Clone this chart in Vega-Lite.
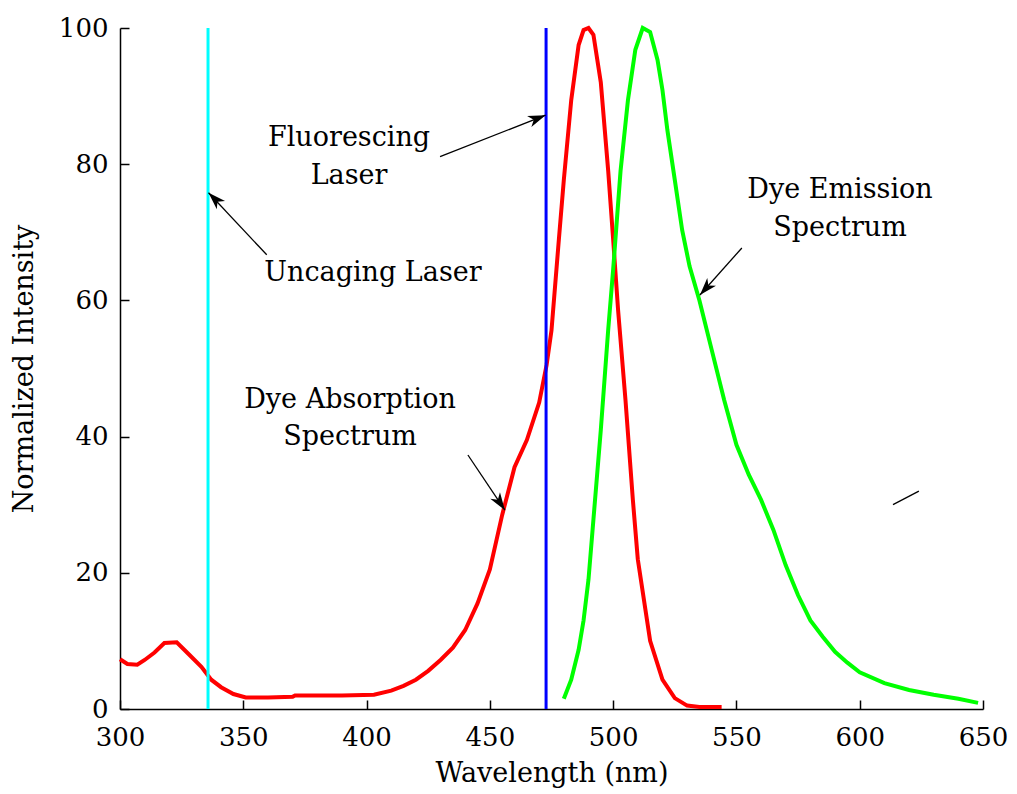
{
  "$schema": "https://vega.github.io/schema/vega-lite/v6.json",
  "width": 863,
  "height": 681,
  "autosize": "none",
  "padding": {"left": 120, "top": 28, "right": 34, "bottom": 85},
  "background": "white",
  "config": {
    "view": {"stroke": null},
    "font": "DejaVu Serif",
    "axis": {
      "grid": false,
      "labelFlush": false,
      "labelOverlap": false,
      "domainColor": "black",
      "domainWidth": 1.5,
      "tickColor": "black",
      "tickWidth": 1.5,
      "tickSize": -9,
      "labelFont": "DejaVu Serif",
      "labelFontSize": 26,
      "labelColor": "black",
      "titleFont": "DejaVu Serif",
      "titleFontSize": 27,
      "titleFontWeight": "normal",
      "titleColor": "black"
    }
  },
  "resolve": {"scale": {"color": "independent"}},
  "datasets": {
    "spectra": [
      {"wl": 300, "v": 7.3, "s": "abs"},
      {"wl": 303, "v": 6.6, "s": "abs"},
      {"wl": 307, "v": 6.5, "s": "abs"},
      {"wl": 310, "v": 7.2, "s": "abs"},
      {"wl": 314, "v": 8.3, "s": "abs"},
      {"wl": 318, "v": 9.7, "s": "abs"},
      {"wl": 323, "v": 9.8, "s": "abs"},
      {"wl": 328, "v": 8.0, "s": "abs"},
      {"wl": 333, "v": 6.2, "s": "abs"},
      {"wl": 337, "v": 4.3, "s": "abs"},
      {"wl": 341, "v": 3.2, "s": "abs"},
      {"wl": 346, "v": 2.2, "s": "abs"},
      {"wl": 351, "v": 1.7, "s": "abs"},
      {"wl": 360, "v": 1.7, "s": "abs"},
      {"wl": 370, "v": 1.8, "s": "abs"},
      {"wl": 371, "v": 2.0, "s": "abs"},
      {"wl": 390, "v": 2.0, "s": "abs"},
      {"wl": 403, "v": 2.1, "s": "abs"},
      {"wl": 410, "v": 2.7, "s": "abs"},
      {"wl": 415, "v": 3.4, "s": "abs"},
      {"wl": 420, "v": 4.3, "s": "abs"},
      {"wl": 425, "v": 5.6, "s": "abs"},
      {"wl": 430, "v": 7.2, "s": "abs"},
      {"wl": 435, "v": 9.0, "s": "abs"},
      {"wl": 440, "v": 11.6, "s": "abs"},
      {"wl": 445, "v": 15.5, "s": "abs"},
      {"wl": 450, "v": 20.5, "s": "abs"},
      {"wl": 455, "v": 28.5, "s": "abs"},
      {"wl": 460, "v": 35.5, "s": "abs"},
      {"wl": 465, "v": 39.5, "s": "abs"},
      {"wl": 470, "v": 45.0, "s": "abs"},
      {"wl": 473, "v": 50.5, "s": "abs"},
      {"wl": 475, "v": 55.6, "s": "abs"},
      {"wl": 478, "v": 69.0, "s": "abs"},
      {"wl": 480, "v": 77.7, "s": "abs"},
      {"wl": 483, "v": 89.4, "s": "abs"},
      {"wl": 486, "v": 97.5, "s": "abs"},
      {"wl": 488, "v": 99.7, "s": "abs"},
      {"wl": 490, "v": 100, "s": "abs"},
      {"wl": 492, "v": 99.0, "s": "abs"},
      {"wl": 495, "v": 92.0, "s": "abs"},
      {"wl": 498, "v": 79.0, "s": "abs"},
      {"wl": 500, "v": 69.0, "s": "abs"},
      {"wl": 502, "v": 58.6, "s": "abs"},
      {"wl": 505, "v": 45.4, "s": "abs"},
      {"wl": 508, "v": 30.7, "s": "abs"},
      {"wl": 510, "v": 22.0, "s": "abs"},
      {"wl": 515, "v": 10.0, "s": "abs"},
      {"wl": 520, "v": 4.3, "s": "abs"},
      {"wl": 525, "v": 1.6, "s": "abs"},
      {"wl": 530, "v": 0.5, "s": "abs"},
      {"wl": 535, "v": 0.3, "s": "abs"},
      {"wl": 544, "v": 0.3, "s": "abs"},
      {"wl": 480, "v": 1.5, "s": "em"},
      {"wl": 483, "v": 4.3, "s": "em"},
      {"wl": 486, "v": 8.7, "s": "em"},
      {"wl": 488, "v": 13.0, "s": "em"},
      {"wl": 490, "v": 19.0, "s": "em"},
      {"wl": 492, "v": 27.8, "s": "em"},
      {"wl": 495, "v": 41.0, "s": "em"},
      {"wl": 498, "v": 55.7, "s": "em"},
      {"wl": 500, "v": 64.5, "s": "em"},
      {"wl": 503, "v": 79.0, "s": "em"},
      {"wl": 506, "v": 89.4, "s": "em"},
      {"wl": 509, "v": 96.8, "s": "em"},
      {"wl": 512, "v": 100, "s": "em"},
      {"wl": 515, "v": 99.4, "s": "em"},
      {"wl": 518, "v": 95.3, "s": "em"},
      {"wl": 520, "v": 90.9, "s": "em"},
      {"wl": 522, "v": 85.0, "s": "em"},
      {"wl": 525, "v": 77.7, "s": "em"},
      {"wl": 528, "v": 70.3, "s": "em"},
      {"wl": 531, "v": 65.0, "s": "em"},
      {"wl": 535, "v": 60.0, "s": "em"},
      {"wl": 540, "v": 52.7, "s": "em"},
      {"wl": 545, "v": 45.4, "s": "em"},
      {"wl": 550, "v": 38.8, "s": "em"},
      {"wl": 555, "v": 34.4, "s": "em"},
      {"wl": 560, "v": 30.7, "s": "em"},
      {"wl": 565, "v": 26.3, "s": "em"},
      {"wl": 570, "v": 21.1, "s": "em"},
      {"wl": 575, "v": 16.7, "s": "em"},
      {"wl": 580, "v": 13.0, "s": "em"},
      {"wl": 585, "v": 10.6, "s": "em"},
      {"wl": 590, "v": 8.4, "s": "em"},
      {"wl": 595, "v": 6.8, "s": "em"},
      {"wl": 600, "v": 5.4, "s": "em"},
      {"wl": 610, "v": 3.8, "s": "em"},
      {"wl": 620, "v": 2.8, "s": "em"},
      {"wl": 630, "v": 2.1, "s": "em"},
      {"wl": 640, "v": 1.5, "s": "em"},
      {"wl": 648, "v": 0.9, "s": "em"}
    ],
    "lasers": [
      {"wl": 335.7, "lo": 0, "hi": 100, "s": "uncaging"},
      {"wl": 472.8, "lo": 0, "hi": 100, "s": "fluorescing"}
    ],
    "arrows": [
      {"id": "uncaging", "x1": 359.5, "y1": 66.7, "x2": 335.9, "y2": 75.8},
      {"id": "fluorescing", "x1": 429.8, "y1": 81.1, "x2": 472.6, "y2": 87.2},
      {"id": "absorption", "x1": 441.1, "y1": 37.3, "x2": 456.1, "y2": 29.2},
      {"id": "emission", "x1": 552.2, "y1": 67.7, "x2": 535.2, "y2": 60.8},
      {"id": "stray", "x1": 613.5, "y1": 30.0, "x2": 624.0, "y2": 32.0}
    ],
    "labels": [
      {"t": "Fluorescing", "x": 392.9, "y": 83.8},
      {"t": "Laser", "x": 392.9, "y": 78.3},
      {"t": "Uncaging Laser", "x": 402.6, "y": 64.0},
      {"t": "Dye Absorption", "x": 393.3, "y": 45.4},
      {"t": "Spectrum", "x": 393.3, "y": 39.9},
      {"t": "Dye Emission", "x": 592.0, "y": 76.2},
      {"t": "Spectrum", "x": 592.0, "y": 70.6}
    ]
  },
  "layer": [
    {
      "data": {"name": "spectra"},
      "mark": {"type": "line", "strokeWidth": 4, "interpolate": "linear"},
      "encoding": {
        "x": {"field": "wl", "type": "quantitative", "scale": {"domain": [300, 650], "nice": false, "zero": false},
              "axis": {"title": "Wavelength (nm)", "values": [300, 350, 400, 450, 500, 550, 600, 650], "labelPadding": 24, "titlePadding": 10}},
        "y": {"field": "v", "type": "quantitative", "scale": {"domain": [0, 100], "nice": false},
              "axis": {"title": "Normalized Intensity", "values": [0, 20, 40, 60, 80, 100], "labelPadding": 21, "titlePadding": 20}},
        "color": {"field": "s", "type": "nominal", "scale": {"domain": ["abs", "em"], "range": ["#ff0000", "#00ff00"]}, "legend": null},
        "detail": {"field": "s"}
      }
    },
    {
      "data": {"name": "lasers"},
      "mark": {"type": "rule", "strokeWidth": 3},
      "encoding": {
        "x": {"field": "wl", "type": "quantitative", "scale": {"domain": [300, 650], "nice": false, "zero": false}},
        "y": {"field": "lo", "type": "quantitative", "scale": {"domain": [0, 100], "nice": false}},
        "y2": {"field": "hi"},
        "color": {"field": "s", "type": "nominal", "scale": {"domain": ["uncaging", "fluorescing"], "range": ["#00ffff", "#0000ff"]}, "legend": null}
      }
    },
    {
      "data": {"name": "arrows"},
      "mark": {"type": "rule", "strokeWidth": 1.3, "color": "black"},
      "encoding": {
        "x": {"field": "x1", "type": "quantitative", "scale": {"domain": [300, 650], "nice": false, "zero": false}},
        "y": {"field": "y1", "type": "quantitative", "scale": {"domain": [0, 100], "nice": false}},
        "x2": {"field": "x2"},
        "y2": {"field": "y2"}
      }
    },
    {
      "data": {"name": "arrows"},
      "transform": [{"filter": "datum.id === 'uncaging'"}],
      "mark": {"type": "point", "shape": "M0,0 L0.6,1.8 L0,1.3 L-0.6,1.8 Z", "filled": true, "color": "black", "opacity": 1, "size": 380, "angle": 315},
      "encoding": {"x": {"field": "x2", "type": "quantitative", "scale": {"domain": [300, 650], "nice": false, "zero": false}}, "y": {"field": "y2", "type": "quantitative", "scale": {"domain": [0, 100], "nice": false}}}
    },
    {
      "data": {"name": "arrows"},
      "transform": [{"filter": "datum.id === 'fluorescing'"}],
      "mark": {"type": "point", "shape": "M0,0 L0.6,1.8 L0,1.3 L-0.6,1.8 Z", "filled": true, "color": "black", "opacity": 1, "size": 380, "angle": 68.6},
      "encoding": {"x": {"field": "x2", "type": "quantitative", "scale": {"domain": [300, 650], "nice": false, "zero": false}}, "y": {"field": "y2", "type": "quantitative", "scale": {"domain": [0, 100], "nice": false}}}
    },
    {
      "data": {"name": "arrows"},
      "transform": [{"filter": "datum.id === 'absorption'"}],
      "mark": {"type": "point", "shape": "M0,0 L0.6,1.8 L0,1.3 L-0.6,1.8 Z", "filled": true, "color": "black", "opacity": 1, "size": 380, "angle": 146.1},
      "encoding": {"x": {"field": "x2", "type": "quantitative", "scale": {"domain": [300, 650], "nice": false, "zero": false}}, "y": {"field": "y2", "type": "quantitative", "scale": {"domain": [0, 100], "nice": false}}}
    },
    {
      "data": {"name": "arrows"},
      "transform": [{"filter": "datum.id === 'emission'"}],
      "mark": {"type": "point", "shape": "M0,0 L0.6,1.8 L0,1.3 L-0.6,1.8 Z", "filled": true, "color": "black", "opacity": 1, "size": 380, "angle": 221.8},
      "encoding": {"x": {"field": "x2", "type": "quantitative", "scale": {"domain": [300, 650], "nice": false, "zero": false}}, "y": {"field": "y2", "type": "quantitative", "scale": {"domain": [0, 100], "nice": false}}}
    },
    {
      "data": {"name": "labels"},
      "mark": {"type": "text", "font": "DejaVu Serif", "fontSize": 27, "color": "black", "align": "center", "baseline": "middle"},
      "encoding": {
        "x": {"field": "x", "type": "quantitative", "scale": {"domain": [300, 650], "nice": false, "zero": false}},
        "y": {"field": "y", "type": "quantitative", "scale": {"domain": [0, 100], "nice": false}},
        "text": {"field": "t"}
      }
    }
  ]
}
